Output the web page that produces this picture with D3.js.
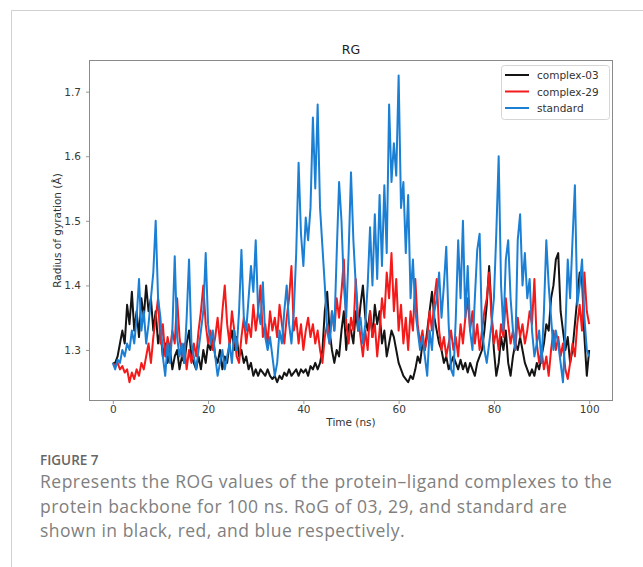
<!DOCTYPE html>
<html lang="en">
<meta charset="utf-8">
<title>RG</title>
<style>
  body { margin: 0; background: #fff; }
  #chart { position: absolute; left: 0; top: 0; }
</style>
<body>
<div id="chart"></div>
<script src="https://cdn.jsdelivr.net/npm/d3@7"></script>
<script>
// time axis: one sample every 0.5 ns, 0..100 ns
const timeStep = 0.5;

const complex03 = [
  1.28,1.28,1.29,1.31,1.33,1.31,1.37,1.34,1.39,1.33,1.36,1.32,1.38,1.35,1.40,1.36,1.38,1.33,1.36,1.31,
  1.33,1.29,1.31,1.28,1.30,1.27,1.29,1.30,1.27,1.29,1.28,1.31,1.33,1.29,1.28,1.27,1.29,1.27,1.30,1.28,
  1.31,1.30,1.32,1.29,1.28,1.30,1.27,1.29,1.28,1.31,1.33,1.30,1.32,1.29,1.30,1.28,1.29,1.27,1.28,1.26,
  1.27,1.26,1.27,1.265,1.26,1.27,1.26,1.255,1.26,1.25,1.26,1.255,1.265,1.26,1.27,1.26,1.265,1.27,1.26,1.27,
  1.265,1.27,1.26,1.275,1.27,1.28,1.27,1.28,1.30,1.36,1.39,1.33,1.30,1.28,1.30,1.29,1.33,1.36,1.30,1.34,
  1.33,1.31,1.36,1.33,1.37,1.40,1.35,1.33,1.36,1.32,1.37,1.34,1.36,1.31,1.33,1.29,1.31,1.33,1.32,1.30,
  1.28,1.27,1.26,1.255,1.25,1.26,1.255,1.27,1.29,1.28,1.31,1.30,1.33,1.36,1.39,1.35,1.33,1.31,1.30,1.28,
  1.29,1.27,1.28,1.29,1.28,1.27,1.285,1.27,1.28,1.265,1.28,1.27,1.26,1.28,1.29,1.30,1.33,1.37,1.43,1.36,
  1.30,1.26,1.28,1.32,1.30,1.33,1.28,1.26,1.29,1.31,1.30,1.32,1.30,1.28,1.27,1.26,1.27,1.26,1.28,1.27,
  1.29,1.31,1.34,1.33,1.38,1.40,1.44,1.45,1.36,1.33,1.30,1.32,1.28,1.30,1.34,1.38,1.42,1.41,1.32,1.26,
  1.30
];

const complex29 = [
  1.28,1.275,1.28,1.27,1.275,1.265,1.27,1.25,1.265,1.255,1.27,1.26,1.28,1.27,1.29,1.31,1.28,1.32,1.35,1.38,
  1.31,1.34,1.29,1.32,1.30,1.33,1.31,1.38,1.32,1.29,1.31,1.27,1.30,1.28,1.31,1.29,1.33,1.36,1.40,1.34,
  1.31,1.33,1.30,1.32,1.35,1.31,1.36,1.40,1.34,1.31,1.36,1.33,1.29,1.28,1.32,1.35,1.31,1.34,1.32,1.37,
  1.33,1.36,1.40,1.32,1.34,1.31,1.36,1.33,1.35,1.32,1.37,1.34,1.31,1.35,1.38,1.43,1.33,1.35,1.31,1.34,
  1.30,1.33,1.35,1.32,1.34,1.31,1.33,1.30,1.28,1.32,1.34,1.31,1.36,1.33,1.38,1.35,1.39,1.44,1.34,1.31,
  1.35,1.33,1.41,1.35,1.32,1.29,1.33,1.30,1.36,1.32,1.34,1.29,1.33,1.38,1.35,1.42,1.38,1.45,1.36,1.41,
  1.33,1.37,1.31,1.35,1.30,1.36,1.33,1.41,1.34,1.31,1.33,1.30,1.32,1.36,1.33,1.38,1.41,1.33,1.30,1.32,
  1.29,1.31,1.33,1.30,1.32,1.29,1.34,1.31,1.35,1.38,1.33,1.36,1.31,1.34,1.30,1.33,1.36,1.38,1.42,1.35,
  1.31,1.33,1.30,1.34,1.32,1.38,1.34,1.31,1.33,1.30,1.35,1.32,1.34,1.31,1.33,1.36,1.34,1.41,1.31,1.28,
  1.30,1.27,1.29,1.26,1.30,1.33,1.30,1.32,1.29,1.31,1.27,1.255,1.28,1.31,1.29,1.34,1.37,1.33,1.42,1.36,
  1.34
];

const standard = [
  1.28,1.27,1.285,1.28,1.30,1.29,1.31,1.30,1.33,1.31,1.35,1.41,1.33,1.36,1.31,1.34,1.38,1.42,1.50,1.38,
  1.35,1.29,1.26,1.31,1.28,1.33,1.445,1.32,1.29,1.31,1.28,1.35,1.44,1.31,1.29,1.27,1.30,1.33,1.36,1.45,
  1.34,1.31,1.33,1.29,1.26,1.28,1.30,1.27,1.29,1.31,1.28,1.33,1.30,1.36,1.455,1.35,1.33,1.38,1.43,1.39,
  1.47,1.36,1.34,1.405,1.32,1.30,1.32,1.29,1.26,1.28,1.33,1.31,1.36,1.40,1.34,1.31,1.36,1.45,1.59,1.48,
  1.43,1.505,1.47,1.52,1.66,1.55,1.68,1.52,1.46,1.40,1.33,1.31,1.36,1.33,1.45,1.56,1.50,1.40,1.35,1.45,
  1.575,1.47,1.40,1.33,1.35,1.31,1.34,1.40,1.49,1.40,1.51,1.41,1.54,1.43,1.555,1.45,1.68,1.56,1.62,1.57,
  1.725,1.52,1.56,1.45,1.54,1.38,1.44,1.36,1.33,1.30,1.32,1.29,1.26,1.33,1.30,1.36,1.38,1.42,1.35,1.40,
  1.46,1.34,1.27,1.26,1.35,1.47,1.38,1.50,1.35,1.43,1.33,1.30,1.38,1.455,1.48,1.33,1.30,1.28,1.31,1.34,
  1.38,1.48,1.60,1.40,1.33,1.44,1.47,1.38,1.33,1.30,1.47,1.51,1.40,1.45,1.38,1.41,1.33,1.29,1.31,1.33,
  1.28,1.36,1.47,1.40,1.35,1.30,1.33,1.31,1.28,1.25,1.33,1.44,1.38,1.47,1.555,1.37,1.40,1.44,1.35,1.30,
  1.29
];

const seriesNames = ["complex-03", "complex-29", "standard"];
const seriesColors = ["#141414", "#f51a1a", "#1b7fd4"];
const xTicks = [0, 20, 40, 60, 80, 100];
const yTicks = [1.3, 1.4, 1.5, 1.6, 1.7];
const captionLines = [
  "Represents the ROG values of the protein\u2013ligand complexes to the",
  "protein backbone for 100 ns. RoG of 03, 29, and standard are",
  "shown in black, red, and blue respectively."
];

const W = 643, H = 567;
const plot = { left: 89, right: 613, top: 60, bottom: 401 };
const labelFont = "'DejaVu Sans', sans-serif";

const svg = d3.select("#chart").append("svg")
  .attr("width", W).attr("height", H);

// card outline
svg.append("path")
  .attr("d", `M11.5,${H} V10.5 H${W}`)
  .attr("fill", "none").attr("stroke", "#d0d0d0").attr("stroke-width", 1);

const allSeries = [complex03, complex29, standard];

// matplotlib-like 5% margins around the data
const x = d3.scaleLinear().domain([-5, 105]).range([plot.left, plot.right]);
const y = d3.scaleLinear().domain([1.221, 1.749]).range([plot.bottom, plot.top]);

const g = svg.append("g");
svg.append("clipPath").attr("id", "clip").append("rect")
  .attr("x", plot.left).attr("y", plot.top)
  .attr("width", plot.right - plot.left).attr("height", plot.bottom - plot.top);

const line = d3.line()
  .x((d, i) => x(i * timeStep))
  .y(d => y(d));

g.append("g").attr("clip-path", "url(#clip)")
  .selectAll("path").data(allSeries).join("path")
  .attr("d", line)
  .attr("fill", "none")
  .attr("stroke", (d, i) => seriesColors[i])
  .attr("stroke-width", 2)
  .attr("stroke-linejoin", "round");

// axes
const xAxis = g.append("g").attr("transform", `translate(0,${plot.bottom})`)
  .call(d3.axisBottom(x).tickValues(xTicks).tickSize(3).tickPadding(2));
const yAxis = g.append("g").attr("transform", `translate(${plot.left},0)`)
  .call(d3.axisLeft(y).tickValues(yTicks).tickFormat(d3.format(".1f")).tickSize(3).tickPadding(5));

[xAxis, yAxis].forEach(a => {
  a.select(".domain").remove();
  a.selectAll("line").attr("stroke", "#999");
  a.selectAll("text").attr("fill", "#3a3a3a")
    .style("font-family", labelFont).style("font-size", "10.5px");
});

g.append("rect")
  .attr("x", plot.left + 0.5).attr("y", plot.top + 0.5)
  .attr("width", plot.right - plot.left - 1).attr("height", plot.bottom - plot.top - 1)
  .attr("fill", "none").attr("stroke", "#8a8a8a").attr("stroke-width", 1);

svg.append("text")
  .attr("x", (plot.left + plot.right) / 2).attr("y", 54)
  .attr("text-anchor", "middle").attr("fill", "#222")
  .style("font-family", labelFont).style("font-size", "12.5px")
  .text("RG");

svg.append("text")
  .attr("x", (plot.left + plot.right) / 2).attr("y", 426)
  .attr("text-anchor", "middle").attr("fill", "#333")
  .style("font-family", labelFont).style("font-size", "10.5px")
  .text("Time (ns)");

svg.append("text")
  .attr("transform", `translate(61,${(plot.top + plot.bottom) / 2}) rotate(-90)`)
  .attr("text-anchor", "middle").attr("fill", "#333")
  .style("font-family", labelFont).style("font-size", "10.5px")
  .text("Radius of gyration (\u00c5)");

// legend
const legend = svg.append("g").attr("transform", "translate(501,65)");
legend.append("rect")
  .attr("x", 0.5).attr("y", 0.5).attr("width", 108).attr("height", 54).attr("rx", 3)
  .attr("fill", "#fff").attr("stroke", "#d5d5d5");
const item = legend.selectAll("g.item").data(seriesNames).join("g")
  .attr("class", "item")
  .attr("transform", (d, i) => `translate(0,${10 + i * 16.5})`);
item.append("line")
  .attr("x1", 4).attr("x2", 28)
  .attr("stroke", (d, i) => seriesColors[i]).attr("stroke-width", 2);
item.append("text")
  .attr("x", 36).attr("y", 4)
  .attr("fill", "#333")
  .style("font-family", labelFont).style("font-size", "10.5px")
  .text(d => d);

// caption
svg.append("text")
  .attr("x", 40).attr("y", 465)
  .attr("fill", "#666")
  .style("font-family", "Open Sans").style("font-size", "13.5px").style("font-weight", "600")
  .text("FIGURE 7");

svg.append("g").selectAll("text").data(captionLines).join("text")
  .attr("x", 40).attr("y", (d, i) => 488 + i * 24.5)
  .attr("fill", "#808080")
  .style("font-family", "Open Sans").style("font-size", "17.5px")
  .style("letter-spacing", "0.5px")
  .text(d => d);
</script>
</body>
</html>
